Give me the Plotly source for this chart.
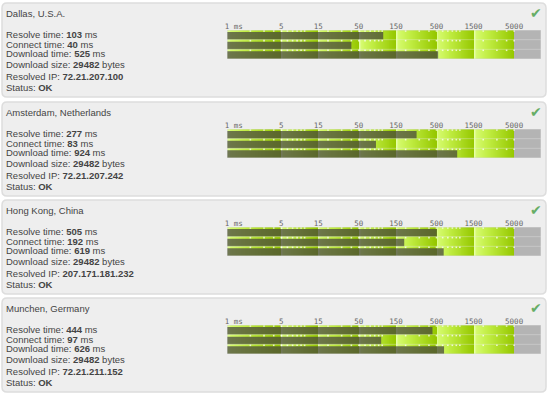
import math
import plotly.graph_objects as go

W, H = 550, 396
locations = ["Dallas, U.S.A.", "Amsterdam, Netherlands", "Hong Kong, China", "Munchen, Germany"]
resolve_ms = [103, 277, 505, 444]
connect_ms = [40, 83, 192, 97]
download_ms = [525, 924, 619, 626]
download_size = [29482, 29482, 29482, 29482]
resolved_ip = ["72.21.207.100", "72.21.207.242", "207.171.181.232", "72.21.211.152"]
status = ["OK", "OK", "OK", "OK"]
tick_vals = [1, 5, 15, 50, 150, 500, 1500, 5000]
tick_text = ["\u00a0\u00a0\u00a01 ms", "5", "15", "50", "150", "500", "1500", "5000"]
band_edges = [1, 5, 15, 50, 150, 500, 1500, 5000]
axis_max = 11100
minor_ticks = [2, 3, 4, 5, 6, 7, 8, 9, 10, 20, 30, 40, 50, 60, 70, 80, 90, 100,
               200, 300, 400, 500, 600, 700, 800, 900, 1000, 2000, 3000, 4000, 5000]

card_tops = [3, 102, 200, 298]
card_h = 94
card_l, card_r = 2, 546
plot_l, plot_r = 227, 541


def px(x):
    return x / W


def py(y):
    return 1 - y / H


# gradient cells of the scale background
cells_x, cells_z = [], []
for i, a in enumerate(band_edges):
    b = band_edges[i + 1] if i + 1 < len(band_edges) else axis_max
    n = 40 if i + 1 < len(band_edges) else 1
    for k in range(n):
        cells_x.append(a * (b / a) ** (k / n))
        cells_z.append(k / (n - 1) * 0.9 if n > 1 else 1.0)
cells_x.append(axis_max)
scale = [[0, "#e6ffa6"], [0.05, "#d4fa6c"], [0.3, "#c2ee45"], [0.9, "#96c800"], [0.9001, "#b4b4b4"], [1, "#b4b4b4"]]

fig = go.Figure()
shapes, annos = [], []
layout = {}
for p, top in enumerate(card_tops):
    s = "" if p == 0 else str(p + 1)
    xa, ya = "x" + s, "y" + s
    l, r, t, b = px(card_l), px(card_r), py(top), py(top + card_h)
    rx, ry = px(5), 5 / H
    shapes.append(dict(type="path", xref="paper", yref="paper", layer="below",
                       path=f"M {l+rx} {t} L {r-rx} {t} Q {r} {t} {r} {t-ry} L {r} {b+ry} Q {r} {b} {r-rx} {b} "
                            f"L {l+rx} {b} Q {l} {b} {l} {b+ry} L {l} {t-ry} Q {l} {t} {l+rx} {t} Z",
                       fillcolor="#eeeeee", line=dict(color="#dddddd", width=1.5)))
    chart_top = top + 27
    layout["xaxis" + s] = dict(type="log", range=[0, math.log10(axis_max)], domain=[px(plot_l), px(plot_r)],
                               anchor=ya, side="top", tickmode="array", tickvals=tick_vals, ticktext=tick_text,
                               tickangle=0, ticks="", showgrid=False, zeroline=False, showline=False,
                               ticklabelstandoff=-1,
                               tickfont=dict(family="DejaVu Sans Mono", size=7.5, color="#666666"))
    layout["yaxis" + s] = dict(range=[3, 0], domain=[py(chart_top + 29), py(chart_top)], anchor=xa,
                               showticklabels=False, ticks="", showgrid=False, zeroline=False, showline=False)
    fig.add_trace(go.Heatmap(x=cells_x, y=[0, 3], z=[cells_z], colorscale=scale, zmin=0, zmax=1,
                             showscale=False, hoverinfo="skip", xaxis=xa, yaxis=ya))
    fig.add_trace(go.Bar(orientation="h", y=[0.6, 1.6, 2.6],
                         x=[resolve_ms[p], connect_ms[p], download_ms[p]],
                         width=0.78, marker=dict(color="rgba(68,66,60,0.72)", line=dict(width=0)),
                         hoverinfo="skip", xaxis=xa, yaxis=ya))
    for row in range(3):
        fig.add_trace(go.Scatter(x=minor_ticks, y=[row + 0.1] * len(minor_ticks), mode="markers",
                                 marker=dict(symbol="square", size=1.6, color="rgba(255,255,255,0.75)"),
                                 hoverinfo="skip", xaxis=xa, yaxis=ya))
    for yy in (1, 2):
        shapes.append(dict(type="line", xref=xa, yref=ya, x0=1, x1=axis_max, y0=yy, y1=yy,
                           line=dict(color="rgba(235,235,235,0.35)", width=1)))
    shapes.append(dict(type="rect", xref=xa, yref=ya, x0=1, x1=axis_max, y0=0, y1=3,
                       line=dict(color="rgba(215,215,215,0.8)", width=1)))

    lines = [
        (10.5, locations[p]),
        (31.5, f"Resolve time: <b>{resolve_ms[p]}</b> ms"),
        (41, f"Connect time: <b>{connect_ms[p]}</b> ms"),
        (50.5, f"Download time: <b>{download_ms[p]}</b> ms"),
        (61.5, f"Download size: <b>{download_size[p]}</b> bytes"),
        (73, f"Resolved IP: <b>{resolved_ip[p]}</b>"),
        (84.5, f"Status: <b>{status[p]}</b>"),
    ]
    for dy, txt in lines:
        annos.append(dict(xref="paper", yref="paper", x=px(6), y=py(top + dy), text=txt, showarrow=False,
                          xanchor="left", yanchor="middle", align="left", borderpad=0, borderwidth=0,
                          font=dict(family="Liberation Sans", size=9.5, color="#444444")))
    annos.append(dict(xref="paper", yref="paper", x=px(536), y=py(top + 10), text="\u2714", showarrow=False,
                      xanchor="center", yanchor="middle",
                      font=dict(family="DejaVu Sans", size=14, color="#66ad66")))

fig.update_layout(width=W, height=H, margin=dict(l=0, r=0, t=0, b=0, pad=0, autoexpand=False), paper_bgcolor="white",
                  plot_bgcolor="rgba(0,0,0,0)", showlegend=False, barmode="overlay",
                  shapes=shapes, annotations=annos, **layout)
fig.write_html("out.html", config={"displayModeBar": False},
               post_script="document.body.style.margin='0';")
